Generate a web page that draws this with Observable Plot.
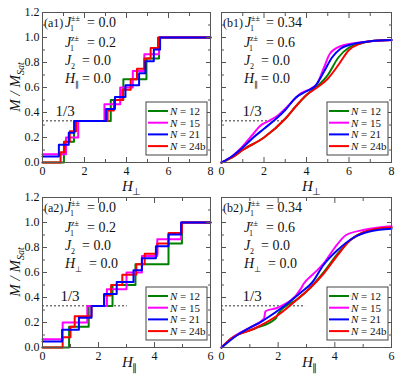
<!DOCTYPE html>
<html><head><meta charset="utf-8">
<script src="https://cdn.jsdelivr.net/npm/d3@7"></script>
<script src="https://cdn.jsdelivr.net/npm/@observablehq/plot@0.6"></script>
<style>
body{margin:0;background:#fff;}
#root{position:relative;width:397px;height:377px;overflow:hidden;font-family:'Liberation Serif','Times New Roman',serif;background:#fff;}
#root > svg{position:absolute;}
</style></head><body><div id="root"></div>
<script>
// ---- data ----
const seriesLabels = ["12", "15", "21", "24b"];
const seriesColors = ["#008000", "#ff00ff", "#0000ff", "#ff0000"];
const yTicks = [0, 0.2, 0.4, 0.6, 0.8, 1.0, 1.2];
const yMinorTicks = [0.1, 0.3, 0.5, 0.7, 0.9, 1.1];
const thirdValue = 1 / 3;
const thirdLabel = "1/3";

// panel (a1): step curves, [H, M/Msat from H onward]
const a1_N12 = [[0,0],[1.02,0.167],[1.5,0.333],[3.25,0.5],[3.85,0.667],[4.95,0.833],[5.55,1.0],[8,1.0]];
const a1_N15 = [[0,0.067],[1.12,0.2],[1.7,0.333],[2.95,0.467],[3.7,0.6],[4.3,0.733],[4.85,0.867],[5.55,1.0],[8,1.0]];
const a1_N21 = [[0,0.048],[0.78,0.143],[1.25,0.238],[1.52,0.333],[3.02,0.429],[3.45,0.524],[3.95,0.619],[4.6,0.714],[4.9,0.81],[5.3,0.905],[5.6,1.0],[8,1.0]];
const a1_N24 = [[0,0],[0.86,0.083],[1.05,0.167],[1.3,0.25],[1.6,0.333],[3.1,0.417],[3.4,0.5],[3.8,0.583],[4.2,0.667],[4.5,0.75],[4.85,0.833],[5.15,0.917],[5.5,1.0],[8,1.0]];
// panel (a2)
const a2_N12 = [[0,0],[0.95,0.167],[1.65,0.333],[2.5,0.5],[3.32,0.667],[4.5,0.833],[4.98,1.0],[6,1.0]];
const a2_N15 = [[0,0.067],[0.72,0.2],[1.6,0.333],[2.3,0.467],[3.0,0.6],[3.55,0.733],[4.1,0.867],[4.95,1.0],[6,1.0]];
const a2_N21 = [[0,0.048],[0.7,0.143],[1.3,0.238],[1.75,0.333],[2.2,0.429],[2.65,0.524],[3.25,0.619],[3.55,0.714],[4.05,0.81],[4.5,0.905],[4.95,1.0],[6,1.0]];
const a2_N24 = [[0,0],[0.72,0.083],[1.0,0.167],[1.15,0.25],[1.75,0.333],[2.2,0.417],[2.45,0.5],[2.85,0.583],[3.35,0.667],[3.65,0.75],[4.1,0.833],[4.5,0.917],[4.98,1.0],[6,1.0]];
// panel (b1): smooth curves
const b1_N12 = [[0,0],[0.5,0.04],[1,0.1],[2,0.2],[3,0.35],[3.5,0.45],[4,0.54],[4.5,0.61],[5,0.7],[5.5,0.84],[6,0.92],[6.5,0.95],[7,0.97],[8,0.98]];
const b1_N15 = [[0,0],[0.5,0.05],[1,0.13],[1.5,0.23],[1.8,0.29],[2.2,0.33],[2.6,0.37],[3,0.43],[3.4,0.5],[3.7,0.55],[4.2,0.59],[4.5,0.63],[4.8,0.75],[5.1,0.87],[5.6,0.93],[6.5,0.96],[8,0.98]];
const b1_N21 = [[0,0],[0.5,0.05],[1,0.12],[1.5,0.2],[2,0.27],[2.5,0.34],[3,0.42],[3.5,0.52],[4,0.57],[4.4,0.61],[4.8,0.72],[5.2,0.84],[5.6,0.91],[6,0.94],[7,0.97],[8,0.98]];
const b1_N24 = [[0,0],[0.5,0.04],[1,0.1],[2,0.2],[3,0.35],[3.5,0.45],[4,0.54],[4.5,0.6],[5,0.67],[5.5,0.78],[6,0.9],[6.5,0.95],[7,0.97],[8,0.98]];
// panel (b2)
const b2_N12 = [[0,0],[0.33,0.07],[1.15,0.15],[1.9,0.23],[2.0,0.27],[2.7,0.39],[3.1,0.47],[3.6,0.6],[4.1,0.75],[4.55,0.86],[5,0.92],[5.5,0.95],[6,0.96]];
const b2_N15 = [[0,0],[0.33,0.07],[1.0,0.16],[1.5,0.23],[1.55,0.29],[2.0,0.32],[2.8,0.47],[2.9,0.51],[3.2,0.58],[3.6,0.67],[3.97,0.79],[4.4,0.9],[5,0.94],[6,0.97]];
const b2_N21 = [[0,0],[0.56,0.1],[1.5,0.22],[2.2,0.33],[2.8,0.44],[3.2,0.52],[3.6,0.66],[4.1,0.78],[4.67,0.88],[5.26,0.93],[6,0.95]];
const b2_N24 = [[0,0],[0.33,0.07],[1.15,0.15],[2,0.26],[2.7,0.39],[3.1,0.47],[3.6,0.59],[4.1,0.74],[4.55,0.86],[5,0.92],[5.5,0.95],[6,0.96]];

const panelTags = ["(a1)", "(b1)", "(a2)", "(b2)"];
const panelJ1pm = ["0.0", "0.34", "0.0", "0.34"];
const panelJ1zpm = ["0.2", "0.6", "0.2", "0.6"];
const panelJ2 = ["0.0", "0.0", "0.0", "0.0"];
const panelField = ["0.0", "0.0", "0.0", "0.0"];
const panelFieldSub = ["∥", "∥", "⊥", "⊥"];
const panelAxisSub = ["⊥", "⊥", "∥", "∥"];
const panelXMax = [8, 8, 6, 6];
const panelDashEnd = [3.25, 2.9, 3.03, 2.97];
const panelThirdX = [0.62, 0.99, 0.64, 0.74];
const thirdLabelY = 0.376;
const panelSeries = [
  [a1_N12, a1_N15, a1_N24, a1_N21],
  [b1_N12, b1_N15, b1_N24, b1_N21],
  [a2_N12, a2_N15, a2_N24, a2_N21],
  [b2_N12, b2_N15, b2_N24, b2_N21]
];
const drawOrder = [0, 1, 3, 2]; // colour index for each drawn series (green, magenta, red, blue)

// ---- layout ----
const layout = [
  {left: 0,   top: 0,   width: 215, height: 185, mL: 42, mR: 5, mT: 12, mB: 23, yLabels: true},
  {left: 215, top: 0,   width: 182, height: 185, mL: 6,  mR: 6, mT: 12, mB: 23, yLabels: false},
  {left: 0,   top: 185, width: 215, height: 192, mL: 42, mR: 5, mT: 12, mB: 30, yLabels: true},
  {left: 215, top: 185, width: 182, height: 192, mL: 6,  mR: 6, mT: 12, mB: 30, yLabels: false}
];
const FONT = "'Liberation Serif', 'Times New Roman', serif";
const root = document.getElementById("root");

layout.forEach((L, i) => {
  const xMax = panelXMax[i];
  const xMajor = d3.range(0, xMax + 0.001, 2);
  const xMinor = d3.range(1, xMax, 2);
  const blank = () => "";
  const tickStroke = "#555";
  const marks = [
    Plot.ruleY([thirdValue], {x1: 0, x2: panelDashEnd[i], stroke: "#333", strokeWidth: 1, strokeDasharray: "2,2"}),
    Plot.text([thirdLabel], {x: panelThirdX[i], y: thirdLabelY, text: d => d, textAnchor: "start", lineAnchor: "bottom", fontSize: 15, fill: "#111"})
  ];
  panelSeries[i].forEach((s, k) => {
    marks.push(Plot.line(s, {x: d => d[0], y: d => d[1], stroke: seriesColors[drawOrder[k]], strokeWidth: 2,
      curve: (i === 0 || i === 2) ? "step-after" : "monotone-x"}));
  });
  for (const anchor of ["bottom", "top"]) {
    marks.push(Plot.axisX(xMajor, {anchor, tickSize: -5, tickFormat: blank, stroke: tickStroke, label: null}));
    marks.push(Plot.axisX(xMinor, {anchor, tickSize: -3, tickFormat: blank, stroke: tickStroke, label: null}));
  }
  for (const anchor of ["left", "right"]) {
    marks.push(Plot.axisY(yTicks, {anchor, tickSize: -5, tickFormat: blank, stroke: tickStroke, label: null}));
    marks.push(Plot.axisY(yMinorTicks, {anchor, tickSize: -3, tickFormat: blank, stroke: tickStroke, label: null}));
  }
  marks.push(Plot.axisX(xMajor, {anchor: "bottom", tickSize: 0, tickPadding: 4, tickFormat: d => String(d), fontSize: 12, fill: "#111", label: null}));
  if (L.yLabels) marks.push(Plot.axisY(yTicks, {anchor: "left", tickSize: 0, tickPadding: 3, tickFormat: d3.format(".1f"), fontSize: 12, fill: "#111", label: null}));
  marks.push(Plot.frame({stroke: "#555", strokeWidth: 1}));

  const chart = Plot.plot({
    width: L.width, height: L.height,
    marginLeft: L.mL, marginRight: L.mR, marginTop: L.mT, marginBottom: L.mB,
    x: {domain: [0, xMax]},
    y: {domain: [0, 1.2]},
    style: {background: "transparent", fontFamily: FONT, fontSize: "12px", overflow: "visible"},
    marks
  });
  chart.style.position = "absolute";
  chart.style.left = L.left + "px";
  chart.style.top = L.top + "px";
  chart.style.maxWidth = "none";
  root.appendChild(chart);
});

// ---- overlay text: annotations, legends, axis titles ----
const ov = d3.select(root).append("svg").attr("width", 397).attr("height", 377)
  .style("left", "0px").style("top", "0px").style("font-family", FONT).attr("fill", "#111");

function txt(x, y, t, size, italic) {
  return ov.append("text").attr("x", x).attr("y", y).attr("font-size", size)
    .attr("font-style", italic ? "italic" : null).text(t);
}

layout.forEach((L, i) => {
  const fl = L.left + L.mL, fr = L.left + L.width - L.mR;
  const ft = L.top + L.mT, fb = L.top + L.height - L.mB;
  const isB = i % 2 === 1;
  const jx = isB ? fl + 24 : fl + 23;
  // line 1
  txt(fl + 2, ft + 15, panelTags[i], 12, false);
  txt(jx, ft + 15, "J", 14, true);
  txt(jx + 6, ft + 9, "±±", 8, false);
  txt(jx + 5, ft + 19, "1", 8, false);
  txt(fl + 45, ft + 15, "= " + panelJ1pm[i], 14, false);
  // line 2
  txt(fl + 23, ft + 35, "J", 14, true);
  txt(fl + 29, ft + 29, "z±", 8, false);
  txt(fl + 28, ft + 39, "1", 8, false);
  txt(fl + 45, ft + 35, "= " + panelJ1zpm[i], 14, false);
  // line 3
  txt(fl + 23, ft + 53, "J", 14, true);
  txt(fl + 29, ft + 57, "2", 8, false);
  txt(fl + 40, ft + 53, "= " + panelJ2[i], 14, false);
  // line 4
  txt(fl + 23, ft + 71, "H", 14, true);
  txt(fl + 33, ft + 75, panelFieldSub[i], 8, false);
  txt(panelFieldSub[i] === "⊥" ? fl + 47 : fl + 40, ft + 71, "= " + panelField[i], 14, false);

  // legend
  const bx0 = fr - 64, bx1 = fr - 3, by0 = fb - 60, by1 = fb - 7;
  ov.append("rect").attr("x", bx0).attr("y", by0).attr("width", bx1 - bx0).attr("height", by1 - by0)
    .attr("fill", "#fff").attr("stroke", "#444").attr("stroke-width", 1);
  seriesLabels.forEach((lab, k) => {
    const cy = fb - 51 + k * 11.7;
    ov.append("line").attr("x1", fr - 62).attr("x2", fr - 42).attr("y1", cy).attr("y2", cy)
      .attr("stroke", seriesColors[k]).attr("stroke-width", 2);
    const t = ov.append("text").attr("x", fr - 40).attr("y", cy + 4).attr("font-size", 11);
    t.append("tspan").attr("font-style", "italic").text("N");
    t.append("tspan").text(" = " + lab);
  });

  // x axis title
  const cx = (fl + fr) / 2;
  const hy = i >= 2 ? fb + 20 : fb + 29;
  txt(cx - 4, hy, "H", 15, true);
  txt(cx + 6, hy + 4, panelAxisSub[i], 10, false);

  // y axis title (left panels only)
  if (!isB) {
    const cyc = (ft + fb) / 2;
    const g = ov.append("g").attr("transform", `translate(20,${cyc}) rotate(-90)`);
    const t = g.append("text").attr("text-anchor", "middle").attr("font-size", 15).attr("font-style", "italic");
    t.append("tspan").text("M / M");
    t.append("tspan").attr("font-size", 10).attr("dy", 4).text("Sat");
  }
});
</script></body></html>
